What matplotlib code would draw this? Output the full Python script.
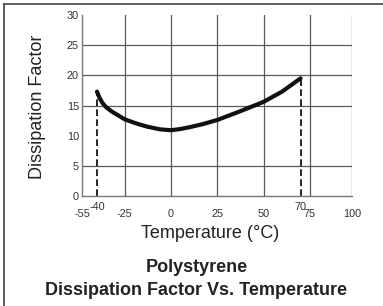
import matplotlib
matplotlib.use('Agg')
import matplotlib.pyplot as plt
from matplotlib.lines import Line2D

# values
temps = [-40, -38.5, -37, -35, -32, -29, -25, -19, -13, -6, 0, 5, 10, 17, 25, 37, 50, 60, 70]
dissipation = [17.3, 16.2, 15.4, 14.7, 14.0, 13.45, 12.7, 12.05, 11.5, 11.05, 10.9, 11.1,
               11.4, 11.9, 12.6, 14.0, 15.6, 17.3, 19.5]
range_ends = [-40, 70]
end_values = [17.3, 19.5]

x_grid = [-25, 0, 25, 50, 75]
x_labels = ['-55', '-25', '0', '25', '50', '75', '100']
range_labels = ['-40', '70']
y_ticks = [0, 5, 10, 15, 20, 25, 30]
y_grid = [5, 15, 20, 25]

plt.rcParams['font.family'] = ['Liberation Sans', 'DejaVu Sans']

W, H = 383, 306
fig = plt.figure(figsize=(W / 100, H / 100), dpi=100)
ax = fig.add_axes([82 / W, (H - 196) / H, 270 / W, 181 / H])

# axis is drawn with -55 and 100 at the edges of the frame
xmin, xmax = -48.1, 97.8
ax.set_xlim(xmin, xmax)
ax.set_ylim(0, 30)

grid_kw = dict(color='#5a5a5a', lw=0.9, zorder=1)
for g in x_grid + [xmax]:
    ax.axvline(g, **grid_kw)
for g in y_grid:
    ax.axhline(g, **grid_kw)

ax.plot(temps, dissipation, color='#111111', lw=3, solid_capstyle='round',
        solid_joinstyle='round', zorder=3)
ax.vlines(range_ends, 0, end_values, colors='black', linestyles=(0, (4, 2)),
          lw=1.2, zorder=2)

ax.set_xticks([xmin] + x_grid + [xmax])
ax.set_xticklabels(x_labels)
ax.set_xticks(range_ends, minor=True)
ax.set_xticklabels(range_labels, minor=True)
ax.set_yticks(y_ticks)
ax.tick_params(axis='x', which='major', length=0, pad=9.5, labelsize=7.8, labelcolor='#333333')
ax.tick_params(axis='x', which='minor', length=0, pad=4, labelsize=7.8, labelcolor='#333333')
ax.tick_params(axis='y', length=0, pad=2.2, labelsize=7.8, labelcolor='#333333')

for s in ['top', 'right']:
    ax.spines[s].set_visible(False)
for s in ['left', 'bottom']:
    ax.spines[s].set_color('#777777')
    ax.spines[s].set_linewidth(1)

ax.set_xlabel('Temperature (°C)', fontsize=13, color='#222222')
ax.xaxis.label.set_va('center')
ax.xaxis.set_label_coords((210 - 82) / 270, (196 - 234) / 181)
ax.set_ylabel('Dissipation Factor', fontsize=13, color='#222222')
ax.yaxis.label.set_va('center')
ax.yaxis.set_label_coords((38 - 82) / 270, (196 - 107) / 181)

fig.text(197 / W, 1 - 268 / H, 'Polystyrene', ha='center', va='center',
         fontsize=13, fontweight='bold', color='#222222')
fig.text(196.5 / W, 1 - 290.5 / H, 'Dissipation Factor Vs. Temperature', ha='center',
         va='center', fontsize=13, fontweight='bold', color='#222222')

# frame lines on the left and top of the picture
fig.add_artist(Line2D([4 / W, 4 / W], [0, 1 - 3.5 / H], transform=fig.transFigure,
                      color='#444444', lw=1.2))
fig.add_artist(Line2D([4 / W, 1], [1 - 3.5 / H, 1 - 3.5 / H], transform=fig.transFigure,
                      color='#444444', lw=1.2))

fig.savefig('out.png', dpi=100)
